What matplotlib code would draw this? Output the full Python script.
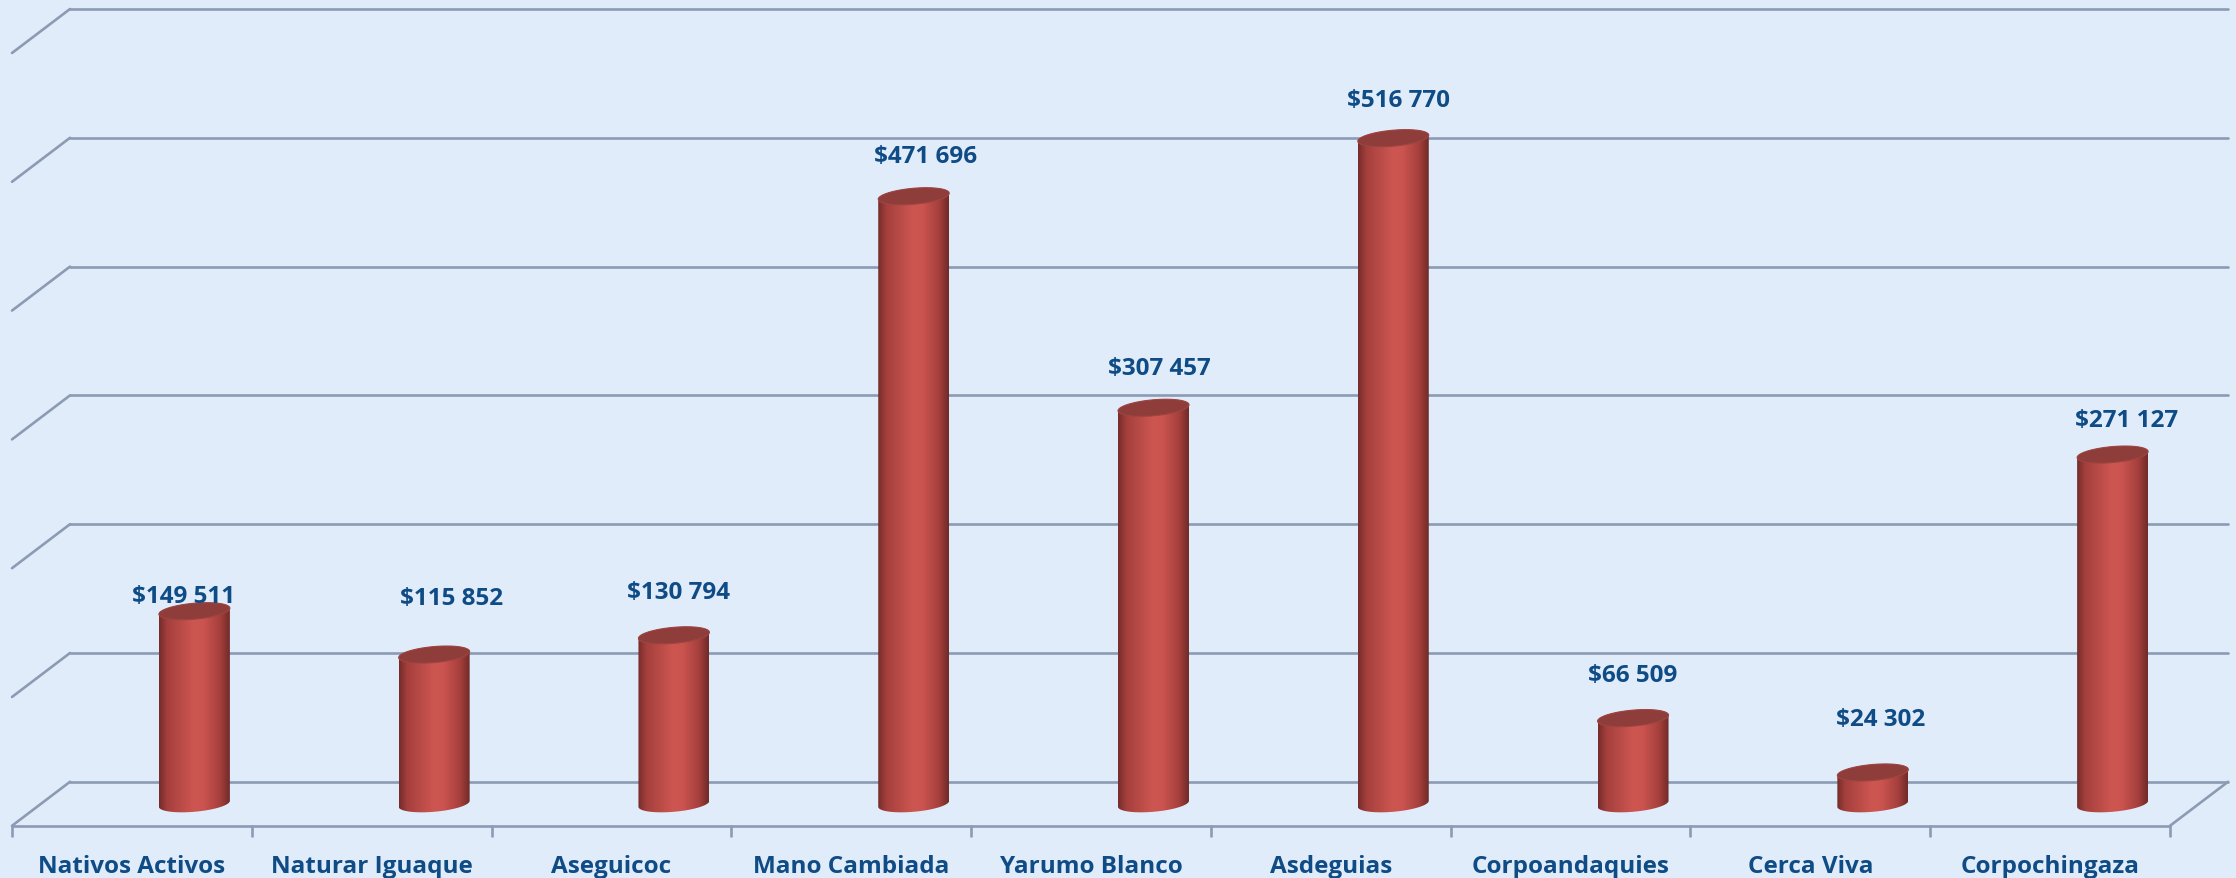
import numpy as np
import matplotlib
matplotlib.use("Agg")
import matplotlib.pyplot as plt
from matplotlib.transforms import ScaledTranslation, blended_transform_factory, IdentityTransform
from matplotlib.patches import Polygon
from matplotlib.lines import Line2D

# ---------------- data ----------------
categories = ["Nativos Activos", "Naturar Iguaque", "Aseguicoc", "Mano Cambiada",
              "Yarumo Blanco", "Asdeguias", "Corpoandaquies", "Cerca Viva", "Corpochingaza"]
values = [149511, 115852, 130794, 471696, 307457, 516770, 66509, 24302, 271127]
y_ticks = [0, 100000, 200000, 300000, 400000, 500000, 600000]

# manual label nudges (pixels) as placed in the original chart
label_dx = [-11, 17, 5, 12, 6, 5, 0, 8, 14]
label_dy = [9, 51, 37, 34, 34, 32, 37, 47, 29]


def fmt(v):
    return "$" + f"{v:,}".replace(",", " ")


# ---------------- style ----------------
W, H, DPI = 2236, 879, 100
BG = '#E1ECFB'
GRID = '#8C9BB4'
TXT = '#0F4B85'
FONT = 'Open Sans'
FSIZE = 17.5

fig = plt.figure(figsize=(W / DPI, H / DPI), dpi=DPI, facecolor=BG)
ax = fig.add_axes([74.5 / W, 1 - 856.3 / H, 2158 / W, 824.3 / H])
YMIN, YMAX = -40000, 600000
ax.set_xlim(-0.5, len(categories) - 0.5)
ax.set_ylim(YMIN, YMAX)
ax.axis('off')

units_per_px = (YMAX - YMIN) / 824.3

BACK = (-4.5, 22)
FRONT = (-62.5, -22)


def px(x, v, off):
    X, Y = ax.transData.transform((x, v))
    return X + off[0], Y + off[1]


def seg(p, q):
    ax.add_line(Line2D([p[0], q[0]], [p[1], q[1]], transform=IdentityTransform(),
                       color=GRID, lw=1.9, solid_capstyle='round', clip_on=False, zorder=1))


n = len(categories)
left, right = -0.5, n - 0.5
for v in y_ticks:
    seg(px(left, v, BACK), px(right, v, BACK))
    seg(px(left, v, BACK), px(left, v, FRONT))
# floor
seg(px(left, 0, FRONT), px(right, 0, FRONT))
seg(px(right, 0, BACK), px(right, 0, FRONT))
for bnd in np.arange(left, right + 0.01, 1.0):
    p = px(bnd, 0, FRONT)
    seg(p, (p[0], p[1] - 10))

# ---------------- cylinders ----------------
bars = ax.bar(range(n), values, width=0.296, color='none', linewidth=0, zorder=2)

stops_u = [0, 0.12, 0.5, 0.62, 0.86, 1]
stops_c = [(116, 44, 42), (165, 64, 61), (206, 86, 81), (204, 84, 80), (166, 64, 61), (112, 42, 40)]
u = np.linspace(0, 1, 256)
grad = np.stack([np.interp(u, stops_u, [c[i] for c in stops_c]) for i in range(3)], axis=-1) / 255.0
img = grad[None, :, :]

b = 8.0 * units_per_px
k = 3.0 * units_per_px
for rect in bars:
    x0 = rect.get_x()
    w = rect.get_width()
    v = rect.get_height()
    cx = x0 + w / 2
    a = w / 2
    t1 = np.linspace(np.pi, 2 * np.pi, 80)
    t2 = np.linspace(0, np.pi, 80)
    xs = np.r_[cx + a * np.cos(t1), cx + a * np.cos(t2)]
    ys = np.r_[b * np.sin(t1) + k * np.cos(t1), v + b * np.sin(t2) + k * np.cos(t2)]
    clip = Polygon(np.c_[xs, ys], closed=True, transform=ax.transData)
    im = ax.imshow(img, extent=[cx - a, cx + a, -b - k - 2000, v + b + k + 2000],
                   aspect='auto', interpolation='bilinear', zorder=3)
    im.set_clip_path(clip)
    t = np.linspace(0, 2 * np.pi, 160)
    cap = Polygon(np.c_[cx + a * np.cos(t), v + b * np.sin(t) + k * np.cos(t)], closed=True,
                  facecolor='#8F3D3A', edgecolor='#9E4541', lw=0.8, zorder=4)
    ax.add_patch(cap)

ax.set_xlim(-0.5, n - 0.5)
ax.set_ylim(YMIN, YMAX)

# ---------------- labels ----------------
for i, v in enumerate(values):
    tr = ax.transData + ScaledTranslation(label_dx[i] / DPI, label_dy[i] / DPI, fig.dpi_scale_trans)
    ax.text(i, v, fmt(v), transform=tr, ha='center', va='baseline', color=TXT,
            fontsize=FSIZE, fontweight='bold', family=FONT, zorder=6, clip_on=False)

ctr = blended_transform_factory(ax.transData, fig.transFigure) + \
    ScaledTranslation(FRONT[0] / DPI, 0, fig.dpi_scale_trans)
for i, c in enumerate(categories):
    ax.text(i, (H - 873) / H, c, transform=ctr, ha='center', va='baseline', color=TXT,
            fontsize=FSIZE, fontweight='bold', family=FONT, clip_on=False)

fig.savefig('out.png', dpi=DPI, facecolor=BG)
